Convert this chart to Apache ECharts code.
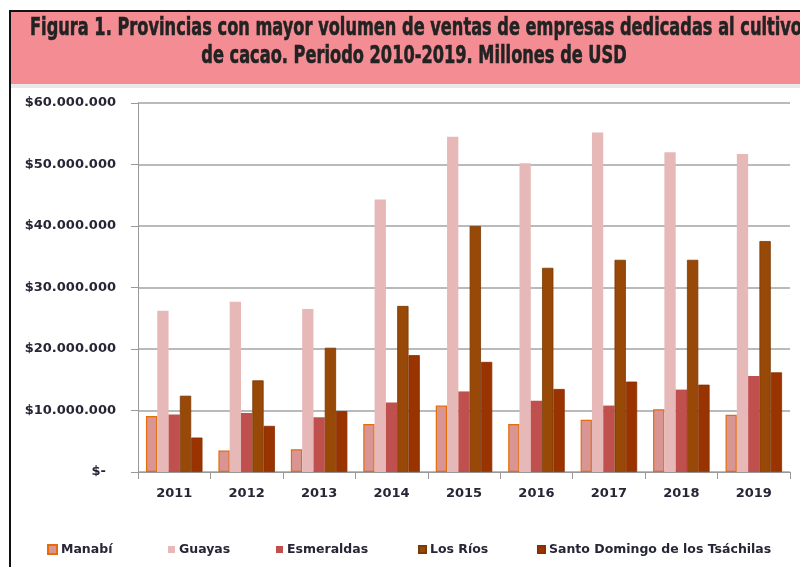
<!DOCTYPE html>
<html><head><meta charset="utf-8">
<script src="https://cdn.jsdelivr.net/npm/echarts@6/dist/echarts.min.js"></script>
<style>html,body{margin:0;padding:0;background:#fff}#c{width:800px;height:567px}</style>
</head><body><div id="c"></div>
<script>
const years = ['2011','2012','2013','2014','2015','2016','2017','2018','2019'];
const seriesNames = ['Manabí','Guayas','Esmeraldas','Los Ríos','Santo Domingo de los Tsáchilas'];
const manabi = [9100000, 3500000, 3700000, 7800000, 10800000, 7800000, 8500000, 10200000, 9300000];
const guayas = [26200000, 27700000, 26500000, 44300000, 54500000, 50200000, 55200000, 52000000, 51700000];
const esmeraldas = [9350000, 9600000, 8900000, 11300000, 13100000, 11600000, 10800000, 13400000, 15600000];
const losRios = [12400000, 14900000, 20200000, 27000000, 40000000, 33200000, 34500000, 34500000, 37550000];
const santoDomingo = [5600000, 7500000, 9900000, 19000000, 17900000, 13500000, 14700000, 14200000, 16200000];
const yMin = 0, yMax = 60000000, yStep = 10000000;
const titleLines = ['Figura 1. Provincias con mayor volumen de ventas de empresas dedicadas al cultivo',
                    'de cacao. Periodo 2010-2019. Millones de USD'];

const FONT = '"DejaVu Sans", sans-serif';
const TXT = '#262636';
const titleSize = 24;
const ctx = document.createElement('canvas').getContext('2d');
ctx.font = 'bold ' + titleSize + 'px "DejaVu Sans"';
const tScale = 772 / ctx.measureText(titleLines[0]).width;

const styles = [
  {color:'#D99594', borderColor:'#E46C0A', borderWidth:1.2},
  {color:'#E6B9B8'},
  {color:'#C0504D'},
  {color:'#984807', borderColor:'#7A3A05', borderWidth:0.8},
  {color:'#993300', borderColor:'#8A2E00', borderWidth:0.8}
];
const dataSets = [manabi, guayas, esmeraldas, losRios, santoDomingo];
const legendLeft = [47, 168, 276, 418, 537];

const chart = echarts.init(document.getElementById('c'), null, {renderer:'canvas'});
chart.setOption({
  animation:false,
  backgroundColor:'#fff',
  graphic:[
    {type:'rect', shape:{x:10, y:12, width:800, height:72}, style:{fill:'#F48D93'}, z:-1},
    {type:'rect', shape:{x:10, y:84, width:800, height:4}, style:{fill:'#E9E9E9'}, z:-1},
    {type:'rect', shape:{x:9, y:10, width:2, height:567}, style:{fill:'#111'}},
    {type:'rect', shape:{x:9, y:10, width:800, height:2}, style:{fill:'#111'}},
    {type:'text', x:416, y:29, scaleX:tScale, style:{text:titleLines[0], x:0, y:0, align:'center', verticalAlign:'middle',
       font:'bold '+titleSize+'px '+FONT, fill:'#222', stroke:'#222', lineWidth:0.6}},
    {type:'text', x:414, y:57, scaleX:tScale, style:{text:titleLines[1], x:0, y:0, align:'center', verticalAlign:'middle',
       font:'bold '+titleSize+'px '+FONT, fill:'#222', stroke:'#222', lineWidth:0.6}}
  ],
  legend: seriesNames.map((n,i)=>({
    data:[n], left:legendLeft[i], top:543, padding:0, icon:'rect',
    itemWidth: i===0 ? 9 : 7, itemHeight: i===0 ? 9 : 7, itemGap:5,
    textStyle:{fontFamily:FONT, fontWeight:'bold', fontSize:12.5, color:TXT, padding:[0,0,0,-1]}
  })),
  grid:{left:138, right:10, top:103, bottom:95, containLabel:false},
  xAxis:{
    type:'category', data:years,
    axisLine:{lineStyle:{color:'#999', width:1}},
    axisTick:{show:true, length:7, lineStyle:{color:'#999'}},
    axisLabel:{margin:15, fontFamily:FONT, fontWeight:'bold', fontSize:13, color:TXT}
  },
  yAxis:{
    type:'value', min:yMin, max:yMax, interval:yStep,
    axisLine:{show:true, lineStyle:{color:'#999', width:1}},
    axisTick:{show:true, length:7, lineStyle:{color:'#999'}},
    splitLine:{lineStyle:{color:'#A3A3A3', width:1.5}},
    axisLabel:{margin:22, fontFamily:FONT, fontWeight:'bold', fontSize:13, color:TXT,
      formatter:v => v === 0 ? '{z|$-}' : '$' + v.toLocaleString('de-DE'),
      rich:{z:{fontFamily:FONT, fontWeight:'bold', fontSize:13, color:TXT, padding:[0,10,0,0]}}}
  },
  series: dataSets.map((d,i)=>({
    name:seriesNames[i], type:'bar', data:d,
    barGap:'0%', barCategoryGap:'22%',
    itemStyle:styles[i]
  }))
});
</script></body></html>
